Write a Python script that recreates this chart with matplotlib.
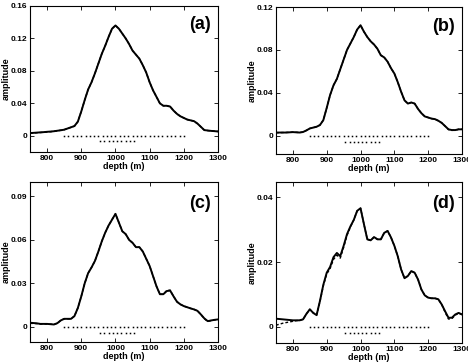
import matplotlib
matplotlib.use("Agg")
import matplotlib.pyplot as plt

plt.rcParams['font.family'] = ['Liberation Sans', 'DejaVu Sans']
plt.rcParams['font.weight'] = 'bold'

# depth grid (m), 10 m steps
depth = list(range(750, 1301, 10))

# panel (a)
amp_a = [0.0033, 0.0036, 0.0039, 0.0042, 0.0045, 0.0049, 0.0052, 0.0056, 0.0062, 0.0068,
         0.0075, 0.0090, 0.0105, 0.0120, 0.0175, 0.030, 0.044, 0.057, 0.066, 0.077,
         0.089, 0.101, 0.111, 0.122, 0.132, 0.136, 0.132, 0.126, 0.120, 0.113,
         0.105, 0.100, 0.095, 0.087, 0.078, 0.066, 0.056, 0.048, 0.040, 0.037,
         0.037, 0.036, 0.031, 0.027, 0.024, 0.022, 0.020, 0.019, 0.018, 0.015,
         0.011, 0.007, 0.0065, 0.006, 0.0057, 0.0053]
est_a = [0.0032, 0.0035, 0.0038, 0.0040, 0.0043, 0.0046, 0.0050, 0.0055, 0.0061, 0.0068,
         0.0075, 0.0090, 0.0104, 0.0119, 0.0174, 0.030, 0.044, 0.057, 0.066, 0.077,
         0.089, 0.101, 0.111, 0.122, 0.132, 0.136, 0.132, 0.126, 0.120, 0.113,
         0.105, 0.100, 0.095, 0.087, 0.078, 0.066, 0.056, 0.048, 0.040, 0.037,
         0.037, 0.036, 0.031, 0.027, 0.024, 0.022, 0.020, 0.019, 0.018, 0.015,
         0.011, 0.007, 0.0064, 0.006, 0.0057, 0.0053]

# panel (b)
amp_b = [0.003, 0.003, 0.003, 0.003, 0.0032, 0.0034, 0.0032, 0.003, 0.0035, 0.005,
         0.0068, 0.0076, 0.0084, 0.010, 0.0146, 0.026, 0.038, 0.047, 0.053, 0.062,
         0.071, 0.080, 0.086, 0.092, 0.099, 0.103, 0.097, 0.092, 0.088, 0.085,
         0.081, 0.075, 0.073, 0.069, 0.063, 0.058, 0.050, 0.041, 0.033, 0.030,
         0.031, 0.030, 0.025, 0.021, 0.018, 0.017, 0.016, 0.0155, 0.014, 0.012,
         0.009, 0.006, 0.0053, 0.0053, 0.006, 0.006]
est_b = [0.0028, 0.0029, 0.003, 0.0031, 0.0032, 0.0033, 0.0032, 0.003, 0.0035, 0.005,
         0.0068, 0.0076, 0.0084, 0.010, 0.0146, 0.026, 0.038, 0.047, 0.053, 0.062,
         0.071, 0.080, 0.086, 0.092, 0.099, 0.103, 0.097, 0.092, 0.088, 0.085,
         0.081, 0.075, 0.073, 0.069, 0.063, 0.058, 0.050, 0.041, 0.033, 0.030,
         0.031, 0.030, 0.025, 0.021, 0.018, 0.017, 0.016, 0.0155, 0.014, 0.012,
         0.009, 0.0058, 0.0050, 0.0052, 0.006, 0.006]

# panel (c)
amp_c = [0.0028, 0.0026, 0.0024, 0.002, 0.002, 0.002, 0.0018, 0.0016, 0.0025, 0.0044,
         0.0055, 0.0055, 0.0055, 0.0074, 0.013, 0.021, 0.030, 0.037, 0.041, 0.0455,
         0.052, 0.059, 0.065, 0.070, 0.074, 0.078, 0.072, 0.066, 0.064, 0.060,
         0.058, 0.055, 0.055, 0.052, 0.047, 0.042, 0.035, 0.028, 0.0225, 0.0225,
         0.0247, 0.025, 0.021, 0.0173, 0.0155, 0.0143, 0.0135, 0.0127, 0.012, 0.011,
         0.0085, 0.0058, 0.0039, 0.0044, 0.0048, 0.0051]
est_c = [0.0024, 0.0023, 0.0022, 0.0019, 0.0019, 0.0019, 0.0018, 0.0016, 0.0025, 0.0044,
         0.0055, 0.0055, 0.0055, 0.0074, 0.013, 0.021, 0.030, 0.037, 0.041, 0.0455,
         0.052, 0.059, 0.065, 0.070, 0.074, 0.078, 0.072, 0.066, 0.064, 0.060,
         0.058, 0.055, 0.055, 0.052, 0.047, 0.042, 0.035, 0.028, 0.0225, 0.0225,
         0.0250, 0.0253, 0.021, 0.0173, 0.0155, 0.0143, 0.0135, 0.0127, 0.012, 0.011,
         0.0085, 0.0056, 0.0037, 0.0043, 0.0048, 0.0051]

# panel (d)
amp_d = [0.0025, 0.0024, 0.0023, 0.0022, 0.0021, 0.002, 0.002, 0.002, 0.0023, 0.004,
         0.0054, 0.0043, 0.0036, 0.008, 0.013, 0.0167, 0.0185, 0.0215, 0.0228, 0.0218,
         0.025, 0.0286, 0.031, 0.033, 0.0358, 0.0366, 0.0317, 0.027, 0.0267, 0.0277,
         0.027, 0.027, 0.029, 0.0296, 0.0276, 0.025, 0.0218, 0.0177, 0.015, 0.0157,
         0.0172, 0.0167, 0.0146, 0.0115, 0.0097, 0.009, 0.0088, 0.0088, 0.0085, 0.0069,
         0.0048, 0.0028, 0.0028, 0.0038, 0.0043, 0.0038]
est_d = [0.0005, 0.0008, 0.0011, 0.0013, 0.0015, 0.0017, 0.0019, 0.002, 0.0023, 0.004,
         0.0054, 0.0043, 0.0036, 0.0078, 0.0127, 0.0163, 0.0180, 0.0208, 0.0221, 0.0212,
         0.0245, 0.0282, 0.0308, 0.033, 0.0358, 0.0366, 0.0317, 0.027, 0.0267, 0.0277,
         0.027, 0.027, 0.029, 0.0296, 0.0276, 0.025, 0.0218, 0.0177, 0.015, 0.0157,
         0.0172, 0.0167, 0.0146, 0.0115, 0.0097, 0.009, 0.0088, 0.0088, 0.0085, 0.0069,
         0.0045, 0.0024, 0.0025, 0.0036, 0.0042, 0.0038]

amps = [amp_a, amp_b, amp_c, amp_d]
ests = [est_a, est_b, est_c, est_d]
labels = ['(a)', '(b)', '(c)', '(d)']

# dotted depth intervals below the curves
long_interval = [850 + 12.5 * i for i in range(29)]
short_interval = [955 + 12.5 * i for i in range(9)]
short_level = [-0.007, -0.0056, -0.0042, -0.0019]

yticks = [[0, 0.04, 0.08, 0.12, 0.16], [0, 0.04, 0.08, 0.12],
          [0, 0.03, 0.06, 0.09], [0, 0.02, 0.04]]
ylims = [(-0.02, 0.16), (-0.017, 0.12), (-0.0105, 0.1), (-0.005, 0.0447)]

W, H = 468, 363
# (left, right, top, bottom) in pixels
boxes = [(30, 218, 6, 152), (276, 462, 7, 154), (30, 218, 182, 342), (276, 462, 182, 343)]

fig = plt.figure(figsize=(W / 100, H / 100), dpi=100)

for i in range(4):
    l, r, t, b = boxes[i]
    ax = fig.add_axes([l / W, 1 - b / H, (r - l) / W, (b - t) / H])
    ax.plot(depth, ests[i], color='black', lw=1.0, ls=(0, (2, 1.5)))
    ax.plot(depth, amps[i], color='black', lw=1.4)
    ax.plot(long_interval, [0] * len(long_interval), ls='none', marker='s',
            ms=1.1, mew=0, color='black')
    ax.plot(short_interval, [short_level[i]] * len(short_interval), ls='none',
            marker='s', ms=1.1, mew=0, color='black')
    ax.set_xlim(750, 1300)
    ax.set_ylim(*ylims[i])
    ax.set_xticks([800, 900, 1000, 1100, 1200, 1300])
    ax.set_yticks(yticks[i])
    ax.set_yticklabels(['0'] + [f'{v:g}' for v in yticks[i][1:]])
    ax.tick_params(direction='in', length=3, width=0.6, labelsize=6,
                   top=True, right=True, pad=2)
    for s in ax.spines.values():
        s.set_linewidth(0.8)
    ax.set_xlabel('depth (m)', fontsize=6.5, fontweight='bold', labelpad=0)
    ax.set_ylabel('amplitude', fontsize=6.5, fontweight='bold', labelpad=0)
    ax.text(0.96, 0.84, labels[i], transform=ax.transAxes, ha='right',
            fontsize=13, fontweight='bold')

fig.savefig('out.png', dpi=100)
